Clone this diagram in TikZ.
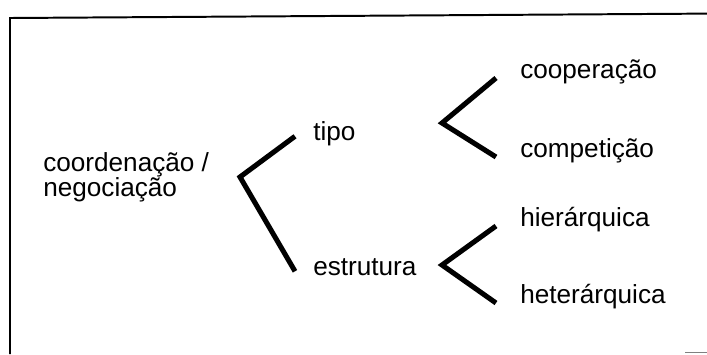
\documentclass[tikz,border=0pt]{standalone}
\usepackage{fontspec}
\setmainfont{Liberation Sans}
\usepackage{tikz}

\begin{document}
\begin{tikzpicture}[every node/.style={inner ysep=0pt, font=\fontsize{18.6}{17.8}\selectfont},
                    branch/.style={anchor=base west, inner xsep=0.45cm},
                    leaf/.style={anchor=base west, inner xsep=0.6cm},
                    bracket/.style={line width=3.6pt},
                    frame/.style={line width=1.4pt}]
       \useasboundingbox (0,0) rectangle (17.675,-8.85);

       % moldura
       \draw [frame] (17.675,-0.34) -- (0.25,-0.45) -- (0.25,-8.85);
       \draw [gray, line width=0.8pt] (17.125,-8.82) -- (17.675,-8.82);

       \node[anchor=west, align=left, inner xsep=0pt] (coord) at (1.075,-4.425) {coordenação /\\negociação};

       \node[branch] (tipo) at (7.375,-3.5) {tipo};
       \node[branch] (estrutura) at (7.375,-6.875) {estrutura};

       \node[leaf] (cooperacao) at (12.4,-1.95) {cooperação};
       \node[leaf] (competicao) at (12.4,-3.925) {competição};
       \node[leaf] (hierarquica) at (12.4,-5.65) {hierárquica};
       \node[leaf] (heterarquica) at (12.4,-7.575) {heterárquica};

       \coordinate (fork1) at (6.0,-4.425);
       \coordinate (fork2) at (11.05,-3.075);
       \coordinate (fork3) at (11.05,-6.625);

       \draw [bracket] (tipo.mid west) -- (fork1) -- (estrutura.mid west);
       \draw [bracket] (cooperacao.base west) -- (fork2) -- (competicao.base west);
       \draw [bracket] (hierarquica.base west) -- (fork3) -- (heterarquica.base west);

\end{tikzpicture}
\end{document}
